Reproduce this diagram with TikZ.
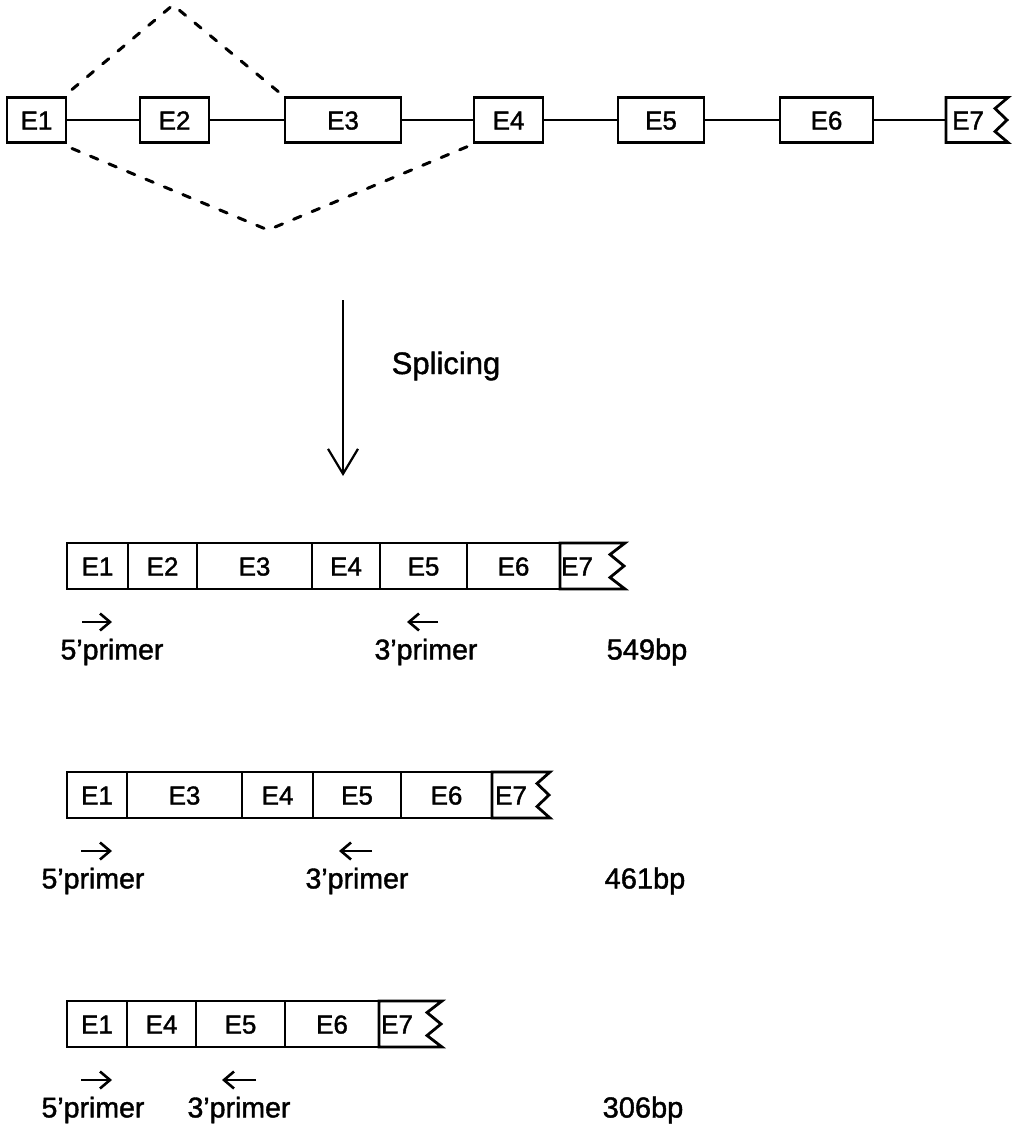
\documentclass[tikz,border=0pt]{standalone}
\usepackage{fontspec}
\setmainfont{Liberation Sans}
\newfontface\figfont{Liberation Sans}[FakeBold=1.4]
\usetikzlibrary{arrows.meta}
\tikzset{
  exon/.style={draw, line width=2.8pt, outer sep=0pt, minimum height=45pt, inner sep=0pt, text height=19pt, text depth=0pt, font=\figfont\fontsize{26}{30}\selectfont},
  mrna/.style={exon, minimum height=46pt},
  tail/.style={line width=2.8pt, line join=miter},
  intron/.style={line width=2.4pt},
  skip/.style={line width=3pt, line cap=round, dash pattern=on 8pt off 12pt},
  splice/.style={line width=2.2pt, -{Straight Barb[length=25pt,width=30pt,line width=2.2pt]}},
  primer/.style={line width=2.6pt, -{Straight Barb[length=10pt,width=17pt]}},
  lab/.style={inner sep=0pt, font=\figfont\fontsize{28.5}{32}\selectfont},
  size/.style={inner sep=0pt, font=\figfont\fontsize{29}{32}\selectfont}
}
\begin{document}
\begin{tikzpicture}[x=1pt, y=-1pt]
                \useasboundingbox (0,0) rectangle (1015,1124);

                \node[exon, minimum width=59pt] (e1) at (36.5,120) {E1};
                \node[exon, minimum width=69pt] (e2) at (174.5,120) {E2};
                \node[exon, minimum width=116pt] (e3) at (343,120) {E3};
                \node[exon, minimum width=69pt] (e4) at (508.5,120) {E4};
                \node[exon, minimum width=86pt] (e5) at (661,120) {E5};
                \node[exon, minimum width=93pt] (e6) at (826.5,120) {E6};
                \node[exon, draw=none, minimum width=44pt] (e7) at (968,120) {E7};
                \draw[tail] (e7.north west) -- ++(62,0) -- ++(-13,11) -- ++(12,11.5) -- ++(-12,11.5) -- ++(13,11) -- (e7.south west) -- cycle;

                \draw[intron] (e1) -- (e2);
                \draw[intron] (e2) -- (e3);
                \draw[intron] (e3) -- (e4);
                \draw[intron] (e4) -- (e5);
                \draw[intron] (e5) -- (e6);
                \draw[intron] (e6) -- (e7);

                \coordinate (up) at (173,5);
                \coordinate (down) at (268,230);
                \draw[skip] ([shift={(6,-8)}]e1.north east) -- (up) -- ([shift={(-2,-2)}]e3.north west);
                \draw[skip] ([shift={(6,6)}]e1.south east) -- (down) -- ([shift={(-4,3)}]e4.south west);

                \coordinate (s1) at (343,300);
                \coordinate (s2) at (343,476);
                \draw[splice] (s1) -- (s2);
                \node[inner sep=0pt, font=\figfont\fontsize{31}{34}\selectfont] (splicing) at (446,366) {Splicing};

                \node[mrna, minimum width=61pt] (a1) at (97.5,566) {E1};
                \node[mrna, minimum width=69pt] (a2) at (162.5,566) {E2};
                \node[mrna, minimum width=115pt] (a3) at (254.5,566) {E3};
                \node[mrna, minimum width=68pt] (a4) at (346,566) {E4};
                \node[mrna, minimum width=87pt] (a5) at (423.5,566) {E5};
                \node[mrna, minimum width=93pt] (a6) at (513.5,566) {E6};
                \node[mrna, draw=none, minimum width=34pt] (a7) at (577,566) {E7};
                \draw[tail] (a7.north west) -- ++(65,0) -- ++(-15,11.5) -- ++(14,11.5) -- ++(-14,11.5) -- ++(15,11.5) -- (a7.south west) -- cycle;
                \coordinate (af) at (82,622);
                \coordinate (ar) at (438,622);
                \draw[primer] (af) -- ++(30,0);
                \draw[primer] (ar) -- ++(-31,0);
                \node[lab] (a5p) at (112,652) {5’primer};
                \node[lab] (a3p) at (426,652) {3’primer};
                \node[size] (abp) at (647,652) {549bp};

                \node[mrna, minimum width=60pt] (b1) at (97,795) {E1};
                \node[mrna, minimum width=115pt] (b3) at (184.5,795) {E3};
                \node[mrna, minimum width=71pt] (b4) at (277.5,795) {E4};
                \node[mrna, minimum width=88pt] (b5) at (357,795) {E5};
                \node[mrna, minimum width=91pt] (b6) at (446.5,795) {E6};
                \node[mrna, draw=none, minimum width=38pt] (b7) at (511,795) {E7};
                \draw[tail] (b7.north west) -- ++(58,0) -- ++(-13,11.5) -- ++(12,11.5) -- ++(-12,11.5) -- ++(13,11.5) -- (b7.south west) -- cycle;
                \coordinate (bf) at (81,851);
                \coordinate (br) at (372,851);
                \draw[primer] (bf) -- ++(31,0);
                \draw[primer] (br) -- ++(-33,0);
                \node[lab] (b5p) at (93,881) {5’primer};
                \node[lab] (b3p) at (357,881) {3’primer};
                \node[size] (bbp) at (645,881) {461bp};

                \node[mrna, minimum width=60pt] (c1) at (97,1024) {E1};
                \node[mrna, minimum width=69pt] (c4) at (161.5,1024) {E4};
                \node[mrna, minimum width=89pt] (c5) at (240.5,1024) {E5};
                \node[mrna, minimum width=94pt] (c6) at (332,1024) {E6};
                \node[mrna, draw=none, minimum width=36pt] (c7) at (397,1024) {E7};
                \draw[tail] (c7.north west) -- ++(63,0) -- ++(-15,11.5) -- ++(14,11.5) -- ++(-14,11.5) -- ++(15,11.5) -- (c7.south west) -- cycle;
                \coordinate (cf) at (81,1080);
                \coordinate (cr) at (256,1080);
                \draw[primer] (cf) -- ++(31,0);
                \draw[primer] (cr) -- ++(-34,0);
                \node[lab] (c5p) at (93,1110) {5’primer};
                \node[lab] (c3p) at (239,1110) {3’primer};
                \node[size] (cbp) at (643,1110) {306bp};
\end{tikzpicture}
\end{document}
